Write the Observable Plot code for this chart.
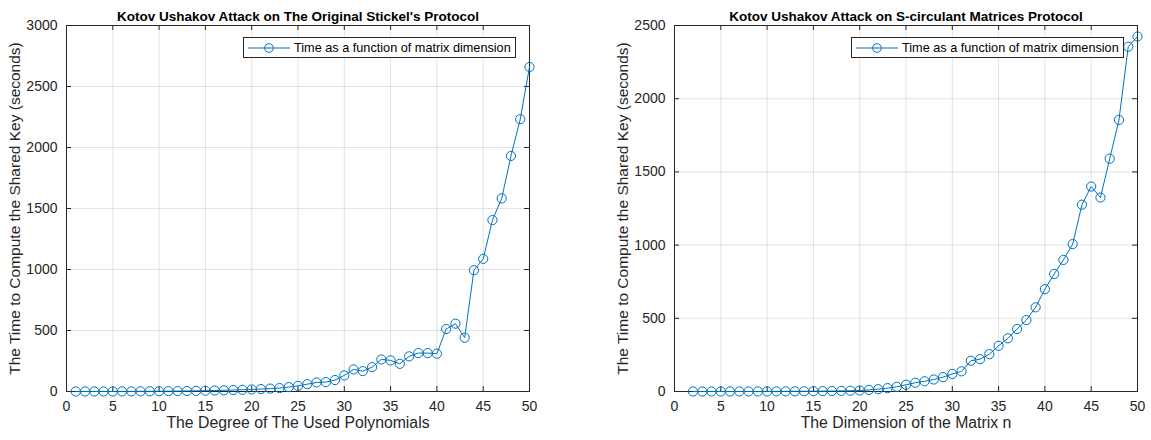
<!DOCTYPE html>
<html>
<head>
<meta charset="utf-8">
<script src="https://cdn.jsdelivr.net/npm/d3@7"></script>
<script src="https://cdn.jsdelivr.net/npm/@observablehq/plot@0.6"></script>
<style>
  body { margin: 0; background: #fff; }
  #wrap { position: relative; width: 1151px; height: 440px; font-family: "Liberation Sans", Arial, Helvetica, sans-serif; overflow: hidden; }
  .panel { position: absolute; top: 0; }
  .legend { position: absolute; top: 37px; height: 19px; width: 271px; border: 1px solid #262626; background: #fff; display: flex; align-items: center; font-size: 12.7px; color: #000; white-space: nowrap; }
  .legend svg { margin-left: 4px; margin-right: 4px; }
</style>
</head>
<body>
<div id="wrap"></div>
<script>
// ---- Data ----
const leftDegree = d3.range(1, 51);
const leftTime = [
  0.1, 0.2, 0.3, 0.4, 0.6, 0.8, 1, 1.3, 1.7, 2.2,
  2.8, 3.5, 4.3, 5.3, 6.5, 8, 10, 12, 14, 17,
  20, 24, 28, 36, 46, 60, 74, 77, 94, 132,
  181, 167, 200, 263, 255, 227, 288, 315, 315, 310,
  512, 556, 441, 994, 1087, 1405, 1583, 1931, 2232, 2660
];
const rightDim = d3.range(2, 51);
const rightTime = [
  0.05, 0.08, 0.1, 0.15, 0.2, 0.25, 0.3, 0.4, 0.5, 0.7,
  0.9, 1.2, 1.5, 2, 2.6, 3.3, 4.2, 5.3, 7, 11,
  16, 23, 32, 46, 60, 70, 82, 98, 120, 138,
  210, 221, 255, 312, 363, 427, 488, 575, 699, 803,
  899, 1007, 1276, 1400, 1325, 1590, 1855, 2355, 2425
];
const xTicks = [0, 5, 10, 15, 20, 25, 30, 35, 40, 45, 50];
const leftYTicks = [0, 500, 1000, 1500, 2000, 2500, 3000];
const rightYTicks = [0, 500, 1000, 1500, 2000, 2500];

const titles = ["Kotov Ushakov Attack on The Original Stickel's Protocol", "Kotov Ushakov Attack on S-circulant Matrices Protocol"];
const xLabels = ["The Degree of The Used Polynomials", "The Dimension of the Matrix n"];
const yLabel = "The Time to Compute the Shared Key (seconds)";
const legendLabel = "Time as a function of matrix dimension";

const BLUE = "#0072BD";
const AX = "#262626";
const FONT = "'Liberation Sans', Arial, Helvetica, sans-serif";

function panel({xs, ys, yMax, yTicks, title, xLabel, width, marginLeft, marginRight}) {
  const marginTop = 25, marginBottom = 49, height = 440;
  const pw = width - marginLeft - marginRight;
  const ph = height - marginTop - marginBottom;
  const data = xs.map((x, i) => ({x, y: ys[i]}));
  const tick = 5;
  return Plot.plot({
    width, height, marginLeft, marginRight, marginTop, marginBottom,
    style: {fontFamily: FONT, background: "white", color: AX, overflow: "visible"},
    x: {domain: [0, 50]},
    y: {domain: [0, yMax]},
    marks: [
      Plot.gridX(xTicks, {stroke: AX, strokeOpacity: 0.13}),
      Plot.gridY(yTicks, {stroke: AX, strokeOpacity: 0.13}),
      Plot.tickX(xTicks, {x: d => d, insetTop: ph - tick, stroke: AX}),
      Plot.tickX(xTicks, {x: d => d, insetBottom: ph - tick, stroke: AX}),
      Plot.tickY(yTicks, {y: d => d, insetRight: pw - tick, stroke: AX}),
      Plot.tickY(yTicks, {y: d => d, insetLeft: pw - tick, stroke: AX}),
      Plot.frame({stroke: AX, strokeWidth: 1}),
      Plot.axisX(xTicks, {tickSize: 0, tickPadding: 10, fontSize: 14, fill: AX, label: null, tickFormat: d3.format("d")}),
      Plot.axisY(yTicks, {tickSize: 0, tickPadding: 9, fontSize: 14, fill: AX, label: null, tickFormat: d3.format("d")}),
      Plot.line(data, {x: "x", y: "y", stroke: BLUE, strokeWidth: 1}),
      Plot.dot(data, {x: "x", y: "y", r: 4.6, stroke: BLUE, strokeWidth: 1, fill: "none"}),
      Plot.text([title], {text: d => d, frameAnchor: "top", dy: -14.5, fontSize: 13.5, fontWeight: "bold", fill: "#000"}),
      Plot.text([xLabel], {text: d => d, frameAnchor: "bottom", dy: 36, fontSize: 15.8, fill: AX}),
      Plot.text([yLabel], {text: d => d, frameAnchor: "left", dx: -51, rotate: -90, textAnchor: "middle", fontSize: 15.5, fill: AX})
    ]
  });
}

const wrap = document.getElementById("wrap");

const p1 = panel({xs: leftDegree, ys: leftTime, yMax: 3000, yTicks: leftYTicks, title: titles[0], xLabel: xLabels[0], width: 575, marginLeft: 66, marginRight: 46});
p1.classList.add("panel");
p1.style.left = "0px";
wrap.appendChild(p1);

const p2 = panel({xs: rightDim, ys: rightTime, yMax: 2500, yTicks: rightYTicks, title: titles[1], xLabel: xLabels[1], width: 576, marginLeft: 99, marginRight: 14});
p2.classList.add("panel");
p2.style.left = "575px";
wrap.appendChild(p2);

function legend(left) {
  const div = document.createElement("div");
  div.className = "legend";
  div.style.left = left + "px";
  div.innerHTML = `<svg width="42" height="12"><line x1="0" y1="6" x2="42" y2="6" stroke="${BLUE}" stroke-width="1"/><circle cx="21" cy="6" r="4.3" fill="none" stroke="${BLUE}" stroke-width="1"/></svg><span>${legendLabel}</span>`;
  wrap.appendChild(div);
}
legend(243);
legend(851);
</script>
</body>
</html>
